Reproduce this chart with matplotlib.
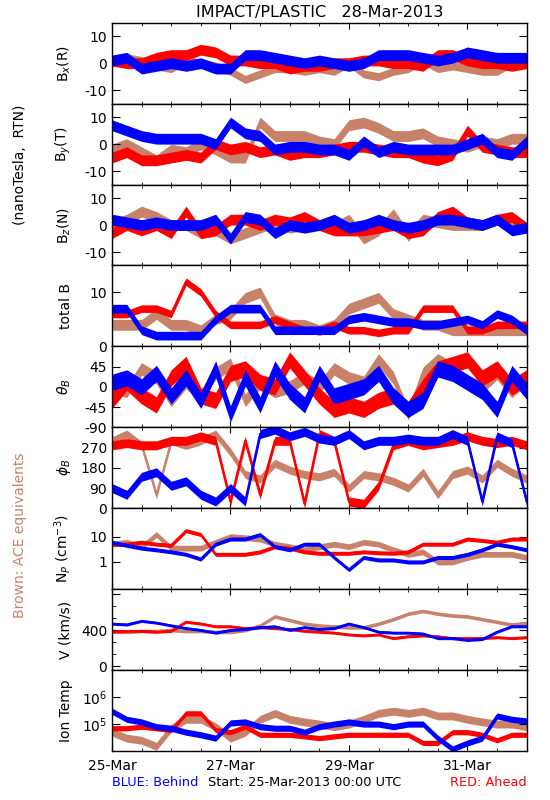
import matplotlib
matplotlib.use("Agg")
import matplotlib.pyplot as plt
import numpy as np
from matplotlib.ticker import FixedLocator, NullFormatter, LogLocator

plt.rcParams['font.family'] = ['DejaVu Sans']

# time axis: days since 25-Mar-2013 00:00 UTC, one reading every 6 hours
t = np.arange(29) * 0.25

# ---- B_x (R) ----
bx_red = [1, 0, 0, 2, 3, 3, 5, 4, 1, 1, 0, 0, -2, -1, -1, 0, 0, 1, 1, 0, 0, -1, 3, 3, 1, 0, 0, -1, 0]
bx_blue = [1, 2, -2, -1, 0, -1, 0, -2, -2, 3, 3, 2, 1, 0, 1, 0, -1, 0, 3, 3, 3, 2, 1, 2, 4, 3, 2, 2, 2]
bx_ace = [0, 2, 1, -1, -2, 1, 0, -1, -3, -6, -4, -2, -2, -3, -2, -3, 0, -4, -5, -3, -2, 1, -2, -1, -2, -3, -3, 0, 0]

# ---- B_y (T) ----
by_red = [-5, -3, -6, -6, -5, -4, -5, 0, -2, -1, -3, -2, -4, -3, -3, -2, -1, -1, -2, -3, -3, -5, -6, -4, 5, -1, -2, -3, -3]
by_blue = [7, 5, 3, 2, 2, 2, 2, 0, 8, 4, 3, -2, -1, -1, -2, -2, -4, 1, -3, -1, -2, -2, -2, -2, 0, 2, -3, -4, 1]
by_ace = [-2, 0, -3, -6, -2, -3, 0, -2, -5, -5, 8, 3, 3, 3, 1, 0, 7, 8, 6, 3, 3, 4, 1, 0, -1, 1, 0, 2, 2]

# ---- B_z (N) ----
bz_red = [-3, 0, -2, 0, -3, 5, -3, -2, 2, 2, 0, 2, 1, 3, 0, -2, -2, -2, -1, 0, -3, -2, 3, 5, 1, 0, 2, 3, -1]
bz_blue = [2, 1, 0, 1, 0, 0, 0, 2, -5, 3, 2, -3, 0, -1, 0, 2, -1, 0, 2, 0, -1, 0, 2, 2, 1, 0, 2, -2, -1]
bz_ace = [0, 2, 5, 3, 0, 0, -3, -2, -5, -3, -1, 1, -1, 0, 0, -1, 2, -5, -2, 4, -4, 2, 1, 0, 0, 0, 2, 0, -1]

# ---- total B ----
bt_red = [6, 6, 7, 7, 6, 12, 10, 6, 4, 4, 4, 5, 4, 3, 3, 4, 3, 3, 2.5, 3, 3, 7, 7, 7, 3, 3, 4, 4, 4]
bt_blue = [7, 7, 3, 2, 2, 2, 2, 5, 7, 7, 7, 3, 3, 3, 3, 3, 5, 5.5, 5, 4.5, 4.5, 4, 4, 4.5, 5, 4, 6, 5, 3]
bt_ace = [4, 4, 4, 6, 4, 4, 3, 5, 6, 9, 10, 5, 4, 4, 3, 4, 7, 8, 9, 6, 5, 4, 4, 3, 3, 3, 3, 3, 3]

# ---- theta_B ----
th_red = [-30, 10, -20, -40, 20, 50, -20, -30, 30, 40, 10, 0, 60, 20, -20, -50, -40, -50, -30, -20, -50, 0, 40, 50, 60, 20, 40, 0, 20]
th_blue = [10, 20, 0, 30, -20, 20, -30, 40, -60, 20, -40, 40, -10, -40, 30, -20, -10, 0, 30, -20, -50, -30, 40, 30, 10, -10, -50, 30, -10]
th_ace = [0, -10, 40, 20, -30, 10, -20, 30, 50, -30, 10, -10, 0, 20, 0, 40, 20, 10, 60, 20, -60, 30, 60, 40, 10, 0, 30, -10, 20]

# ---- phi_B ----
ph_red = [280, 290, 280, 280, 300, 300, 320, 300, 30, 300, 60, 300, 300, 20, 330, 300, 30, 20, 100, 280, 300, 280, 290, 300, 320, 300, 290, 300, 280]
ph_blue = [90, 60, 140, 160, 100, 120, 60, 30, 90, 30, 330, 350, 320, 340, 310, 300, 330, 280, 300, 300, 310, 300, 300, 330, 300, 30, 320, 290, 30]
ph_ace = [300, 330, 280, 60, 300, 280, 300, 330, 250, 150, 130, 200, 170, 150, 140, 160, 90, 150, 140, 120, 90, 160, 60, 150, 170, 130, 200, 160, 130]

# ---- N_p ----
np_red = [5, 5, 6, 5, 4.5, 17, 12, 2, 2, 2, 2.5, 4, 3.5, 2.5, 2.2, 2.2, 2.2, 2.5, 2.3, 2.2, 2.5, 5, 5, 5, 8, 7, 6, 8, 8]
np_blue = [6, 4.5, 3.5, 3, 2.5, 2, 1.3, 5, 8, 8, 12, 4, 3, 5, 5, 1.5, 0.5, 1.5, 1.2, 1.2, 1.0, 1.0, 1.5, 1.5, 2, 3, 5, 4, 3]
np_ace = [5, 6, 4, 12, 3.5, 3.5, 3.5, 6, 10, 9, 8, 5, 4, 3, 4, 5, 4, 6, 5, 3, 2, 2.5, 1.0, 1.0, 1.5, 2, 2, 2, 1.5]

# ---- V ----
v_red = [380, 390, 390, 380, 390, 490, 470, 440, 440, 420, 430, 420, 410, 390, 380, 370, 350, 340, 350, 310, 330, 340, 330, 310, 310, 310, 320, 310, 320]
v_blue = [470, 460, 500, 480, 450, 420, 400, 370, 400, 410, 430, 440, 400, 430, 410, 420, 470, 430, 380, 370, 370, 360, 310, 310, 290, 300, 380, 440, 440]
v_ace = [390, 380, 390, 390, 400, 390, 390, 380, 380, 400, 450, 550, 510, 470, 450, 440, 430, 430, 470, 520, 580, 610, 580, 560, 550, 520, 490, 460, 480]

# ---- Ion Temp ----
ti_red = [7e4, 7e4, 8e4, 7e4, 6e4, 2.5e5, 2.5e5, 6e4, 5e4, 8e4, 4e4, 4e4, 4e4, 3.5e4, 3e4, 3.5e4, 4e4, 4e4, 4e4, 4e4, 4e4, 2e4, 2e4, 5e4, 5e4, 4e4, 2.5e4, 4e4, 4e4]
ti_blue = [3e5, 1.5e5, 1.2e5, 8e4, 7e4, 5e4, 4e4, 3e4, 1.1e5, 1.2e5, 8e4, 7e4, 7e4, 5e4, 8e4, 1e5, 1.2e5, 1e5, 1e5, 8e4, 1e5, 1e5, 3e4, 1.2e4, 2e4, 3e4, 2e5, 1.5e5, 1.3e5]
ti_ace = [5e4, 3e4, 2.5e4, 1.5e4, 7e4, 1.5e5, 1.5e5, 8e4, 3e4, 5e4, 1.5e5, 2.5e5, 1.5e5, 1.2e5, 1e5, 8e4, 1e5, 1.5e5, 2.5e5, 3e5, 2.5e5, 3e5, 2e5, 2e5, 1.5e5, 1.2e5, 1e5, 1e5, 8e4]

# typical scatter (half width) of each series around its trace: red, blue, ACE
# (multiplicative factor on the log panels)
spread_bx = [2.0, 2.0, 1.5]
spread_by = [2.0, 2.0, 2.0]
spread_bz = [2.0, 2.0, 2.0]
spread_bt = [0.7, 0.8, 1.0]
spread_th = [18, 18, 14]
spread_ph = [20, 20, 18]
spread_np = [1.2, 1.2, 1.3]
spread_v = [15, 15, 20]
spread_ti = [1.25, 1.3, 1.4]

day_ticks = [0, 2, 4, 6]
day_labels = ['25-Mar', '27-Mar', '29-Mar', '31-Mar']

RED = '#ff0000'
BLUE = '#0000ff'
BROWN = '#c8826a'

panels = [
    (r'B$_x$(R)', bx_red, bx_blue, bx_ace, spread_bx, (-15, 15), [-10, 0, 10], ['-10', '0', '10'], None),
    (r'B$_y$(T)', by_red, by_blue, by_ace, spread_by, (-15, 15), [-10, 0, 10], ['-10', '0', '10'], None),
    (r'B$_z$(N)', bz_red, bz_blue, bz_ace, spread_bz, (-15, 15), [-10, 0, 10], ['-10', '0', '10'], None),
    ('total B', bt_red, bt_blue, bt_ace, spread_bt, (0, 15), [0, 10], ['0', '10'], None),
    (r'$\theta_B$', th_red, th_blue, th_ace, spread_th, (-90, 90), [-90, -45, 0, 45], ['-90', '-45', '0', '45'], None),
    (r'$\phi_B$', ph_red, ph_blue, ph_ace, spread_ph, (0, 360), [0, 90, 180, 270], ['0', '90', '180', '270'], None),
    (r'N$_P$ (cm$^{-3}$)', np_red, np_blue, np_ace, spread_np, (0.085, 130), [1, 10], ['1', '10'], 'log'),
    ('V (km/s)', v_red, v_blue, v_ace, spread_v, (-40, 850), [0, 400, 800], ['0', '400', ''], None),
    ('Ion Temp', ti_red, ti_blue, ti_ace, spread_ti, (1e4, 1e7), [1e5, 1e6], [r'10$^5$', r'10$^6$'], 'log'),
]

fig = plt.figure(figsize=(5.5, 8), dpi=100)
left, right, top, bottom = 0.2036, 0.9576, 0.9716, 0.0612
h = (top - bottom) / len(panels)

for i, (lab, r, b, a, spr, ylim, yt, ytl, scale) in enumerate(panels):
    ax = fig.add_axes([left, top - (i + 1) * h, right - left, h])
    if scale == 'log':
        ax.set_yscale('log')
    for k, (y, c, lw, z) in enumerate([(a, BROWN, 1.2, 1), (r, RED, 1.6, 2), (b, BLUE, 1.6, 3)]):
        y = np.array(y, dtype=float)
        s = spr[[2, 0, 1][k]]
        if scale == 'log':
            lo, hi = y / s, y * s
        else:
            lo, hi = y - s, y + s
        ax.fill_between(t, lo, hi, color=c, lw=0, zorder=z)
        ax.plot(t, y, color=c, lw=lw, zorder=z)
    ax.set_xlim(0, 7)
    ax.set_ylim(*ylim)
    ax.set_yticks(yt)
    ax.set_yticklabels(ytl)
    if scale == 'log':
        ax.yaxis.set_minor_locator(LogLocator(base=10, subs=np.arange(2, 10)))
        ax.yaxis.set_minor_formatter(NullFormatter())
    elif lab == 'V (km/s)':
        ax.yaxis.set_minor_locator(FixedLocator(np.arange(0, 850, 400 / 3)))
    ax.set_xticks(day_ticks)
    ax.xaxis.set_minor_locator(FixedLocator(np.arange(0, 7.01, 0.5)))
    ax.tick_params(axis='y', which='major', direction='in', length=6, left=True, right=True, labelsize=10)
    ax.tick_params(axis='y', which='minor', direction='in', length=3, left=True, right=True)
    ax.tick_params(axis='x', which='major', direction='in', length=4, top=True, bottom=True, labelsize=10)
    ax.tick_params(axis='x', which='minor', direction='in', length=2, top=True, bottom=True)
    if i == len(panels) - 1:
        ax.set_xticklabels(day_labels)
        ax.tick_params(axis='x', pad=6)
    else:
        ax.set_xticklabels([])
    ax.set_ylabel(lab, fontsize=10)
    ax.yaxis.set_label_coords(-0.095, 0.5)
    for sp in ax.spines.values():
        sp.set_linewidth(1.0)
        sp.set_zorder(5)

fig.text((left + right) / 2, 0.985, 'IMPACT/PLASTIC   28-Mar-2013', ha='center', va='center', fontsize=11.5)
fig.text(0.036, 0.794, '(nanoTesla,  RTN)', rotation=90, ha='center', va='center', fontsize=10)
fig.text(0.036, 0.331, 'Brown: ACE equivalents', rotation=90, ha='center', va='center', fontsize=10, color=BROWN)
fig.text(left, 0.022, 'BLUE: Behind', ha='left', va='center', fontsize=9.3, color=BLUE)
fig.text(0.553, 0.022, 'Start: 25-Mar-2013 00:00 UTC', ha='center', va='center', fontsize=9.3)
fig.text(right, 0.022, 'RED: Ahead', ha='right', va='center', fontsize=9.3, color=RED)

fig.savefig('out.png', dpi=100)
